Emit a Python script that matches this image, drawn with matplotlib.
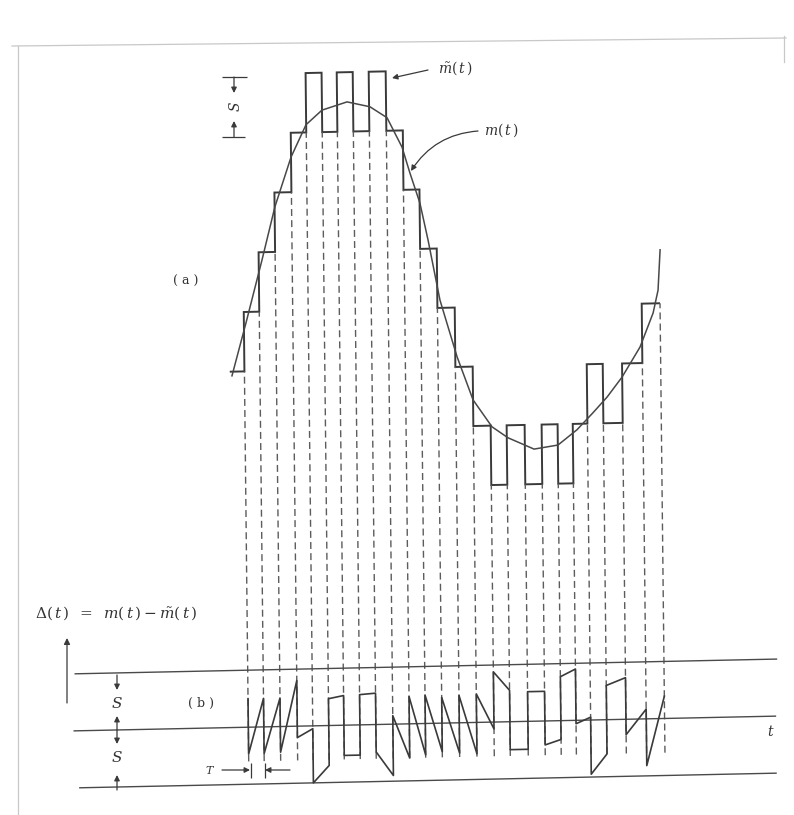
import numpy as np
import matplotlib
matplotlib.use('Agg')
import matplotlib.pyplot as plt
from matplotlib.transforms import Affine2D
from matplotlib.lines import Line2D

# values: time in units of T, amplitude in units of S
sample_t = [0.0, 0.93, 1.92, 2.94, 3.87, 4.83, 5.74, 6.70, 7.66, 8.68,
            9.67, 10.63, 11.63, 12.67, 13.71, 14.75, 15.71, 16.79, 17.81,
            18.77, 19.68, 20.56, 21.52, 22.68, 23.90, 25.00]
t_start = -0.88

# staircase m~(t): level held on each interval (first one is before t_0)
stair_level = [0, 1, 2, 3, 4, 5, 4, 5, 4, 5, 4, 3, 2, 1, 0,
               -1, -2, -1, -2, -1, -2, -1, 0, -1, 0, 1]

# m(t)
m_t = [-0.75, 0.13, 1.13, 1.94, 2.94, 3.86, 4.83, 6.34, 7.71, 8.73,
       9.61, 10.07, 10.65, 11.11, 11.79, 12.78, 13.71, 14.83, 15.78,
       17.34, 18.78, 19.93, 20.90, 21.76, 22.67, 23.77, 24.58, 24.89, 25.04]
m_val = [-0.07, 0.82, 1.87, 2.76, 3.59, 4.13, 4.37, 4.50, 4.41, 4.22,
         3.72, 3.28, 2.77, 2.15, 1.13, 0.17, -0.56, -1.02, -1.21,
         -1.41, -1.35, -1.10, -0.82, -0.56, -0.23, 0.27, 0.84, 1.22, 1.90]

# error Delta(t) = m(t) - m~(t): value at start / end of each interval t_n..t_n+1
delta_first = 0.5
delta_start = [-0.47, -0.47, -0.45, -0.20, -1.00, 0.47, -0.53, 0.53, -0.48,
               0.15, 0.48, 0.50, 0.45, 0.48, 0.50, 0.88, -0.49, 0.52, -0.42,
               0.77, -0.06, -0.95, 0.60, -0.27, -0.82]
delta_end = [0.50, 0.50, 0.80, -0.05, -0.70, 0.52, -0.53, 0.55, -0.90,
             -0.60, -0.55, -0.50, -0.53, -0.55, -0.12, 0.55, -0.49, 0.52, -0.33,
             0.90, 0.05, -0.60, 0.73, 0.17, 0.39]

plt.rcParams['mathtext.fontset'] = 'dejavuserif'
plt.rcParams['font.family'] = 'DejaVu Serif'

W, H = 794, 815
fig = plt.figure(figsize=(W / 100, H / 100), dpi=100, facecolor='white')
ax = fig.add_axes([0, 0, 1, 1])
ax.set_axis_off()

# scale of the drawing on the page
x0_px, T_px = 245.0, 16.65
ymid_px, S_px = 278.0, 59.4
ax.set_xlim(-x0_px / T_px, (W - x0_px) / T_px)
ax.set_ylim(1.5 - (H - ymid_px) / S_px, 1.5 + ymid_px / S_px)

# the scan is slightly skewed
scan = Affine2D().translate(-450, -395).skew(np.arctan(-0.011), np.arctan(0.021)).translate(450, 395)
tr = ax.transData + scan
pix = Affine2D().scale(1, -1).translate(0, H)

ink = '#3a3a3a'
b_zero, b_k = -5.99, 0.96

# (a) staircase and message
ax.stairs(stair_level, [t_start] + sample_t, baseline=None, color=ink, lw=1.4,
          transform=tr)
ax.plot(m_t, m_val, color='#484848', lw=1.1, solid_joinstyle='round', transform=tr)

# dashed sampling instants
nlev = len(stair_level)
tops = [min(stair_level[i], stair_level[min(i + 1, nlev - 1)]) for i in range(len(sample_t))]
ax.vlines(sample_t, [b_zero - 0.6 * b_k] * len(sample_t), tops, colors='#5c5c5c',
          linestyles=(0, (5, 3)), lw=1.0, transform=tr)

# (b) reference lines
ax.hlines([b_zero + b_k, b_zero, b_zero - b_k], [-10.4, -10.5, -10.2], [31.8, 31.7, 31.7],
          colors='#4a4a4a', lw=1.0, transform=tr)

d_t = [sample_t[0]]
d_v = [delta_first]
for n in range(len(delta_start)):
    d_t += [sample_t[n], sample_t[n + 1]]
    d_v += [delta_start[n], delta_end[n]]
ax.plot(d_t, b_zero + b_k * np.array(d_v), color=ink, lw=1.2, solid_joinstyle='round',
        transform=tr)

# labels and dimension marks
txt = dict(color='#333333', transform=pix)
ax.text(455, 68, r'$\tilde{m}(\,t\,)$', fontsize=10, ha='center', va='center', **txt)
ax.text(501, 130, r'$m(\,t\,)$', fontsize=10, ha='center', va='center', **txt)
ax.text(186, 281, '( a )', fontsize=9, ha='center', va='center', **txt)
ax.text(201, 703, '( b )', fontsize=9, ha='center', va='center', **txt)
ax.text(35, 613, r'$\Delta(\,t\,)\;\;=\;\;m(\,t\,)-\tilde{m}(\,t\,)$', fontsize=11,
        ha='left', va='center', **txt)
ax.text(771, 731, r'$t$', fontsize=10, ha='center', va='center', **txt)
ax.text(210, 770, r'$T$', fontsize=8, ha='center', va='center', **txt)
ax.text(235, 107, r'$S$', fontsize=10, ha='center', va='center', rotation=90, **txt)
ax.text(117, 703, r'$S$', fontsize=11, ha='center', va='center', **txt)
ax.text(117, 758, r'$S$', fontsize=11, ha='center', va='center', **txt)

arrow = dict(arrowstyle='-|>', color=ink, lw=0.9, mutation_scale=8, shrinkA=0, shrinkB=0)
def mark(x1, y1, x2, y2, **kw):
    p = dict(arrow)
    p.update(kw)
    ax.annotate('', xy=(x2, y2), xytext=(x1, y1), xycoords=pix, textcoords=pix,
                arrowprops=p)

mark(428, 70, 392, 78)
mark(478, 131, 411, 171, connectionstyle='arc3,rad=0.25')
mark(67, 703, 67, 638, mutation_scale=9)
# S marks in (b)
mark(117, 675, 117, 690)
mark(117, 730, 117, 716)
mark(117, 730, 117, 744)
mark(117, 790, 117, 775)
# S mark in (a)
mark(234, 77, 234, 93)
mark(234, 137, 234, 121)
ax.hlines([77, 137], [222, 222], [247, 245], colors=ink, lw=0.9, transform=pix)
# T mark
mark(222, 770, 250, 770)
mark(290, 770, 265, 770)
ax.vlines([251, 265], [763, 763], [778, 778], colors=ink, lw=0.9, transform=pix)

# faint frame of the scanned page
for xs, ys in [([12, 786], [46, 38]), ([18, 18], [46, 815]), ([784, 784], [36, 62])]:
    fig.add_artist(Line2D(xs, ys, color='#c8c8c8', lw=0.9, transform=pix))

fig.savefig('out.png', dpi=100, facecolor='white')
